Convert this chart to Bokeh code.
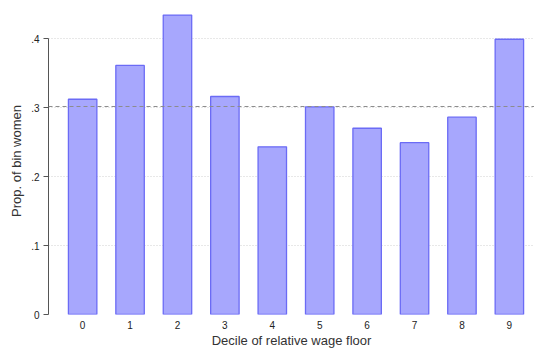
from bokeh.plotting import figure
from bokeh.models import FixedTicker, CustomJSTickFormatter, Span, Range1d
from bokeh.embed import file_html
from bokeh.resources import INLINE

deciles = [0, 1, 2, 3, 4, 5, 6, 7, 8, 9]
prop_women = [0.312, 0.361, 0.434, 0.316, 0.243, 0.301, 0.270, 0.249, 0.286, 0.399]
mean_prop = 0.3015
y_ticks = [0, 0.1, 0.2, 0.3, 0.4]

p = figure(width=534, height=350, output_backend="svg", toolbar_location=None,
           x_range=Range1d(-0.72, 9.53), y_range=Range1d(0, 0.445),
           min_border_left=48, min_border_right=0, min_border_top=7, min_border_bottom=35)
p.outline_line_color = None
p.background_fill_color = "white"

p.vbar(x=deciles, top=prop_women, width=0.6, fill_color="#a7a7fd",
       line_color="#6b6bf5", line_width=1.3)

p.add_layout(Span(location=mean_prop, dimension="width", line_color="#8c8c8c",
                  line_dash="4 3", line_width=1))

font = "Liberation Sans"
# y axis
ya = p.yaxis[0]
ya.ticker = FixedTicker(ticks=y_ticks)
ya.formatter = CustomJSTickFormatter(code="return tick == 0 ? '0' : tick.toFixed(1).replace(/^0/, '');")
ya.bounds = (0, 0.4)
ya.axis_line_color = "#555555"
ya.major_tick_line_color = "#555555"
ya.major_tick_out = 5
ya.major_tick_in = 0
ya.minor_tick_line_color = None
ya.minor_tick_out = 0
ya.minor_tick_in = 0
ya.major_label_text_font = font
ya.major_label_text_font_size = "10px"
ya.major_label_text_color = "#222222"
ya.major_label_standoff = 4
ya.axis_label = "Prop. of bin women"
ya.axis_label_text_font = font
ya.axis_label_text_font_size = "13px"
ya.axis_label_text_font_style = "normal"
ya.axis_label_text_color = "#333333"
ya.axis_label_standoff = 4

# x axis
xa = p.xaxis[0]
xa.ticker = FixedTicker(ticks=deciles)
xa.axis_line_color = None
xa.major_tick_line_color = None
xa.minor_tick_line_color = None
xa.major_tick_out = 0
xa.major_tick_in = 0
xa.minor_tick_out = 0
xa.minor_tick_in = 0
xa.major_label_text_font = font
xa.major_label_text_font_size = "10px"
xa.major_label_text_color = "#222222"
xa.major_label_standoff = 6
xa.axis_label = "Decile of relative wage floor"
xa.axis_label_text_font = font
xa.axis_label_text_font_size = "13px"
xa.axis_label_text_font_style = "normal"
xa.axis_label_text_color = "#333333"
xa.axis_label_standoff = 1

p.xgrid.grid_line_color = None
p.ygrid.ticker = FixedTicker(ticks=y_ticks)
p.ygrid.grid_line_color = "#d0d0d0"
p.ygrid.grid_line_dash = "1 2"
p.ygrid.grid_line_width = 1

open("out.html", "w").write(file_html(p, INLINE))
